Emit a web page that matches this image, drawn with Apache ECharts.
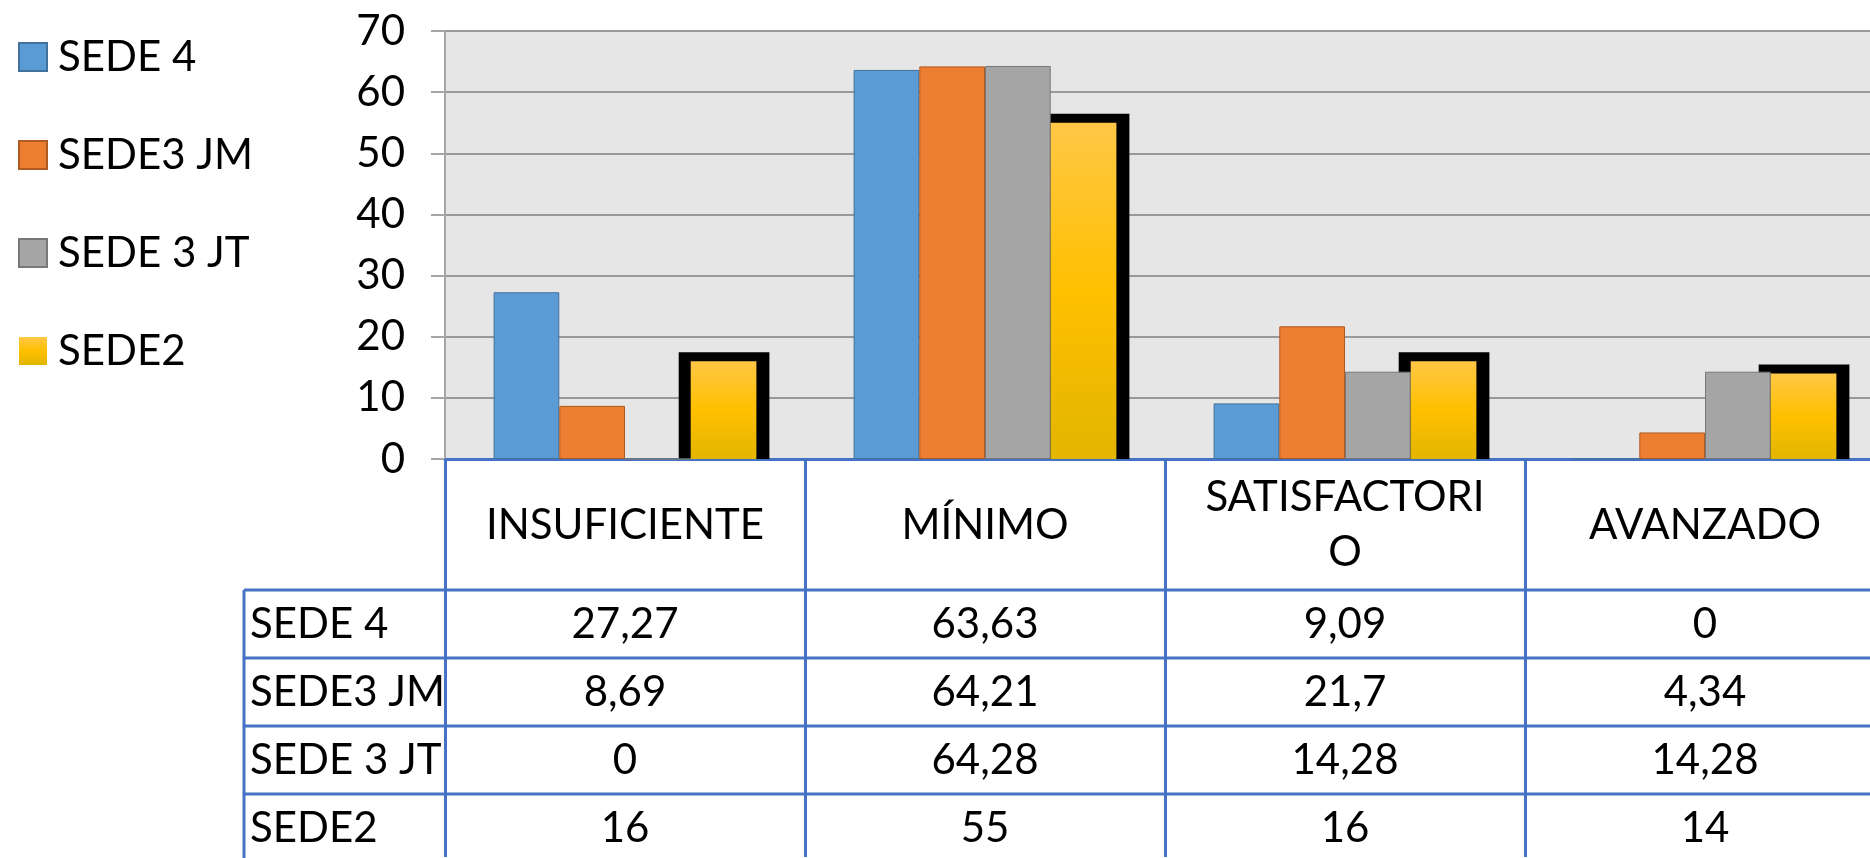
<!DOCTYPE html>
<html>
<head>
<meta charset="utf-8">
<title>Niveles por sede</title>
<script src="https://cdn.jsdelivr.net/npm/echarts@6/dist/echarts.min.js"></script>
<style>
  html, body { margin: 0; padding: 0; background: #fff; }
  #chart { width: 1870px; height: 858px; }
</style>
</head>
<body>
<div id="chart"></div>
<script>
// datos
const categories = ["INSUFICIENTE", "MÍNIMO", "SATISFACTORIO", "AVANZADO"];
const seriesNames = ["SEDE 4", "SEDE3 JM", "SEDE 3 JT", "SEDE2"];
const sede4 = [27.27, 63.63, 9.09, 0];
const sede3jm = [8.69, 64.21, 21.7, 4.34];
const sede3jt = [0, 64.28, 14.28, 14.28];
const sede2 = [16, 55, 16, 14];
const yTicks = [0, 10, 20, 30, 40, 50, 60, 70];

const FONT = "Lato";
const BLUE_LINE = "#4472C4";
const CAT_GAP = 0.27;

const chart = echarts.init(document.getElementById("chart"));

const gold = new echarts.graphic.LinearGradient(0, 0, 0, 1, [
  { offset: 0, color: "#FFC746" },
  { offset: 0.5, color: "#FFC000" },
  { offset: 1, color: "#E2B500" },
]);

chart.setOption({
  animation: false,
  textStyle: { fontFamily: FONT },
  legend: {
    orient: "vertical",
    left: 18,
    top: 36,
    padding: 0,
    icon: "rect",
    itemWidth: 28,
    itemHeight: 28,
    itemGap: 56,
    data: seriesNames,
    textStyle: { fontFamily: FONT, fontSize: 42, color: "#000", lineHeight: 30, padding: [0, 0, 0, 6] },
  },
  grid: {
    left: 445,
    right: -15,
    top: 31,
    bottom: 399,
    show: true,
    backgroundColor: "#E6E6E6",
    borderWidth: 0,
    outerBoundsMode: "none",
  },
  xAxis: {
    type: "category",
    data: categories,
    axisLine: { lineStyle: { color: BLUE_LINE, width: 3 } },
    axisTick: { show: true, interval: 0, length: 398, lineStyle: { color: BLUE_LINE, width: 3 } },
    axisLabel: {
      interval: 0,
      hideOverlap: false,
      fontFamily: FONT,
      fontSize: 42,
      color: "#000",
      margin: 66,
      lineHeight: 55,
      verticalAlign: "middle",
      formatter: (v) => (v === "SATISFACTORIO" ? "SATISFACTORI\nO" : v),
    },
  },
  yAxis: {
    type: "value",
    min: yTicks[0],
    max: yTicks[yTicks.length - 1],
    interval: yTicks[1] - yTicks[0],
    axisLine: { show: true, lineStyle: { color: "#A6A6A6", width: 2 } },
    axisTick: { show: true, length: 14, lineStyle: { color: "#A6A6A6", width: 2 } },
    axisLabel: { fontFamily: FONT, fontSize: 42, color: "#000", margin: 40 },
    splitLine: { lineStyle: { color: "#999", width: 2 } },
  },
  series: [
    {
      // marco negro detrás de las barras de SEDE2
      type: "custom",
      name: "marco",
      z: 1,
      silent: true,
      data: sede2.map((v, i) => [i, v]),
      encode: { x: 0, y: 1 },
      renderItem: (params, api) => {
        const top = api.coord([api.value(0), api.value(1)]);
        const base = api.coord([api.value(0), 0]);
        const band = api.size([1, 0])[0];
        const bw = (band * (1 - CAT_GAP)) / 4;
        const x0 = top[0] - (band * (1 - CAT_GAP)) / 2 + 3 * bw;
        return {
          type: "rect",
          shape: { x: x0 - 12, y: top[1] - 9, width: bw + 25, height: base[1] - top[1] + 9 },
          style: { fill: "#000" },
        };
      },
    },
    {
      name: "SEDE 4",
      type: "bar",
      z: 2,
      barGap: "0%",
      barCategoryGap: CAT_GAP * 100 + "%",
      data: sede4,
      itemStyle: { color: "#5B9BD5", borderColor: "#41719C", borderWidth: 1 },
    },
    {
      name: "SEDE3 JM",
      type: "bar",
      z: 2,
      data: sede3jm,
      itemStyle: { color: "#ED7D31", borderColor: "#AE5A21", borderWidth: 1 },
    },
    {
      name: "SEDE 3 JT",
      type: "bar",
      z: 2,
      data: sede3jt,
      itemStyle: { color: "#A5A5A5", borderColor: "#787878", borderWidth: 1 },
    },
    {
      name: "SEDE2",
      type: "bar",
      z: 2,
      data: sede2,
      itemStyle: { color: gold },
    },
  ],
});

// tabla de datos bajo el eje
const rows = [sede4, sede3jm, sede3jt, sede2];
const c0 = chart.convertToPixel({ xAxisIndex: 0 }, 0);
const c1 = chart.convertToPixel({ xAxisIndex: 0 }, 1);
const band = c1 - c0;
const yBase = chart.convertToPixel({ yAxisIndex: 0 }, 0);
const headerH = 131;
const rowH = 68;
const tableLeft = 244;
const fmt = (v) => String(v).replace(".", ",");

const graphics = [];
const lineStyle = { stroke: BLUE_LINE, lineWidth: 3 };
const txt = (text, x, y, align) => ({
  type: "text",
  style: {
    text, x, y,
    fontFamily: FONT, fontSize: 42, fill: "#000",
    align, verticalAlign: "middle",
    textAlign: align, textVerticalAlign: "middle",
  },
});

for (let r = 0; r <= rows.length; r++) {
  const y = yBase + headerH + r * rowH;
  graphics.push({ type: "line", shape: { x1: tableLeft, y1: y, x2: 1870, y2: y }, style: lineStyle });
}
graphics.push({
  type: "line",
  shape: { x1: tableLeft, y1: yBase + headerH, x2: tableLeft, y2: 858 },
  style: lineStyle,
});
rows.forEach((vals, r) => {
  const yc = yBase + headerH + r * rowH + rowH / 2;
  graphics.push(txt(seriesNames[r], tableLeft + 6, yc, "left"));
  vals.forEach((v, i) => {
    graphics.push(txt(fmt(v), c0 + i * band, yc, "center"));
  });
});

chart.setOption({ graphic: graphics });
</script>
</body>
</html>
